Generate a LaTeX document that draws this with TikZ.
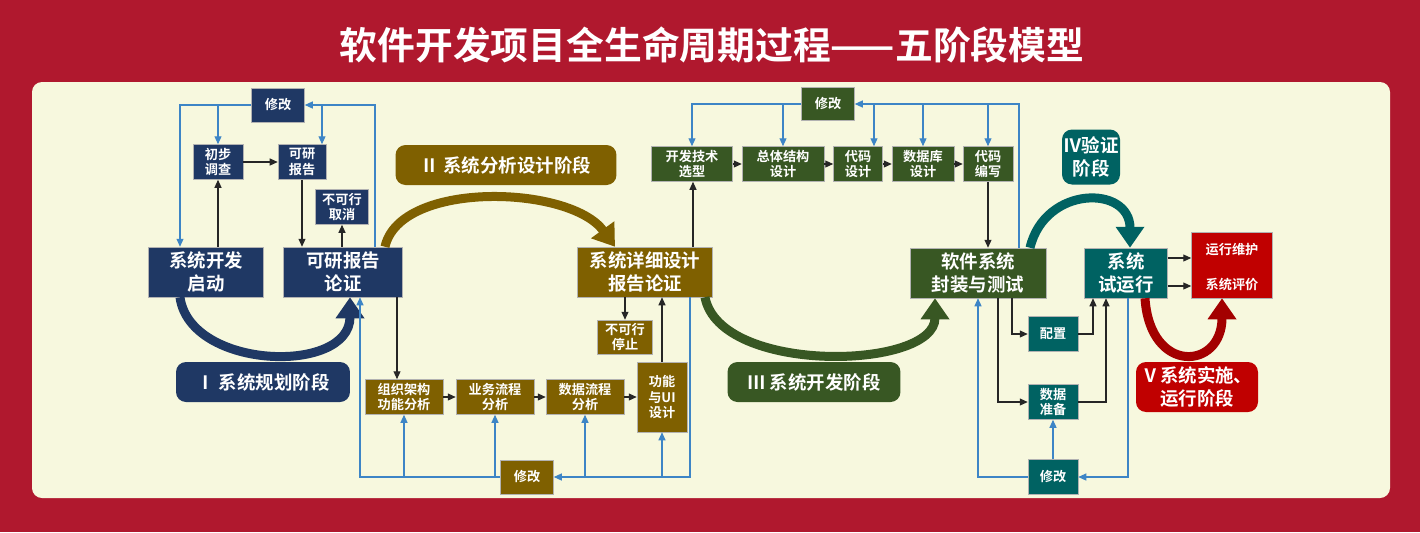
\documentclass[tikz,border=0pt]{standalone}
\usepackage{fontspec}
\setmainfont{Noto Sans CJK SC}[BoldFont={Noto Sans CJK SC Bold}]
\usetikzlibrary{arrows.meta, positioning}
\definecolor{bgred}{HTML}{B0182E}
\definecolor{panel}{HTML}{F7F8DE}
\definecolor{navy}{HTML}{1F3864}
\definecolor{brown}{HTML}{7F6000}
\definecolor{dgreen}{HTML}{385723}
\definecolor{teal}{HTML}{006262}
\definecolor{dred}{HTML}{C00000}
\definecolor{lblue}{HTML}{3D85C6}
\tikzset{ % global config
    box/.style={text=white, font=\bfseries\fontsize{7.5}{9}\selectfont, align=center, inner sep=0pt, draw=white!70!black, line width=0.3pt},
    bigbox/.style={box, font=\bfseries\fontsize{10.5}{13}\selectfont},
    stage/.style={text=white, font=\bfseries\fontsize{10.5}{13}\selectfont, align=center, rounded corners=0.2cm, inner sep=0pt},
    fa/.style={-{Triangle[length=0.16cm,width=0.14cm]}, line width=0.6pt, black!85},
    fb/.style={-{Triangle[length=0.16cm,width=0.14cm]}, line width=0.6pt, lblue},
    big/.style={line width=0.18cm, -{Triangle[length=0.42cm,width=0.55cm]}},
}
\begin{document}
\begin{tikzpicture}[x=0.02cm, y=-0.02cm]
\useasboundingbox[fill=bgred] (0,0) rectangle (1420,532);
\fill[panel, rounded corners=0.2cm] (32,82) rectangle (1390,498);
\node[text=white, font=\bfseries\fontsize{21.5}{24}\selectfont] (title) at (712,45) {软件开发项目全生命周期过程——五阶段模型};

% columns
\foreach \c in {180,322,350,360,375,385,397,615,690,693,705,874,935,978,998,1012,1019,1030,1093,1106,1128,1130,1145,1222}
  \coordinate (c\c) at (\c,0);
\coordinate (r258) at (0,258);
\coordinate (r286) at (0,286);

% stage I
\node[box, fill=navy, minimum width=1.06cm, minimum height=0.68cm] (m1) at (278,105) {修改};
\node[box, fill=navy, minimum width=1.0cm, minimum height=0.7cm] (cb) at (218,162) {初步\\调查};
\node[box, fill=navy, minimum width=0.96cm, minimum height=0.7cm] (kb) at (302,162) {可研\\报告};
\node[box, fill=navy, minimum width=1.06cm, minimum height=0.7cm] (qx) at (342,207) {不可行\\取消};
\node[bigbox, fill=navy, minimum width=2.3cm, minimum height=1.0cm] (qd) at (206,272) {系统开发\\启动};
\node[bigbox, fill=navy, minimum width=2.38cm, minimum height=1.0cm] (lz) at (343,272) {可研报告\\论证};
\node[stage, fill=navy, minimum width=3.48cm, minimum height=0.8cm] (s1) at (263,382) {Ⅰ 系统规划阶段};

% stage II
\node[stage, fill=brown, minimum width=4.42cm, minimum height=0.8cm] (s2) at (506,165) {Ⅱ 系统分析设计阶段};
\node[bigbox, fill=brown, minimum width=2.7cm, minimum height=1.0cm] (xs) at (645,272) {系统详细设计\\报告论证};
\node[box, fill=brown, minimum width=1.1cm, minimum height=0.68cm] (tz) at (625,337) {不可行\\停止};
\node[box, fill=brown, minimum width=1.56cm, minimum height=0.7cm] (a1) at (404,397) {组织架构\\功能分析};
\node[box, fill=brown, minimum width=1.56cm, minimum height=0.7cm] (a2) at (495,397) {业务流程\\分析};
\node[box, fill=brown, minimum width=1.56cm, minimum height=0.7cm] (a3) at (585,397) {数据流程\\分析};
\node[box, fill=brown, minimum width=1.0cm, minimum height=1.4cm] (a4) at (662,397) {功能\\与UI\\设计};
\node[box, fill=brown, minimum width=1.06cm, minimum height=0.68cm] (m2) at (527,477) {修改};

% stage III
\node[box, fill=dgreen, minimum width=1.06cm, minimum height=0.66cm] (m3) at (828,104) {修改};
\node[box, fill=dgreen, minimum width=1.62cm, minimum height=0.7cm] (g1) at (692,164) {开发技术\\选型};
\node[box, fill=dgreen, minimum width=1.64cm, minimum height=0.7cm] (g2) at (783,164) {总体结构\\设计};
\node[box, fill=dgreen, minimum width=0.98cm, minimum height=0.7cm] (g3) at (858,164) {代码\\设计};
\node[box, fill=dgreen, minimum width=1.24cm, minimum height=0.7cm] (g4) at (923,164) {数据库\\设计};
\node[box, fill=dgreen, minimum width=1.0cm, minimum height=0.7cm] (g5) at (988,164) {代码\\编写};
\node[bigbox, fill=dgreen, minimum width=2.72cm, minimum height=1.0cm] (fz) at (978,273) {软件系统\\封装与测试};
\node[stage, fill=dgreen, minimum width=3.46cm, minimum height=0.8cm] (s3) at (814,382) {Ⅲ 系统开发阶段};

% stage IV and V
\node[stage, fill=teal, minimum width=1.16cm, minimum height=1.1cm] (s4) at (1091,157) {Ⅳ验证\\阶段};
\node[bigbox, fill=teal, minimum width=1.66cm, minimum height=1.0cm] (sy) at (1126,273) {系统\\试运行};
\node[box, fill=dred, minimum width=1.62cm, minimum height=1.32cm] (yw) at (1232,265) {};
\node[text=white, font=\bfseries\fontsize{7.5}{9}\selectfont] (yw1) at (1232,250) {运行维护};
\node[text=white, font=\bfseries\fontsize{7.5}{9}\selectfont] (yw2) at (1232,284) {系统评价};
\node[box, fill=teal, minimum width=1.0cm, minimum height=0.7cm] (pz) at (1053,334) {配置};
\node[box, fill=teal, minimum width=1.0cm, minimum height=0.7cm] (sj) at (1053,402) {数据\\准备};
\node[box, fill=teal, minimum width=1.0cm, minimum height=0.7cm] (m4) at (1053,477) {修改};
\node[stage, fill=dred, minimum width=2.44cm, minimum height=1.0cm] (s5) at (1197,387) {Ⅴ系统实施、\\运行阶段};

% big stage arrows
\draw[big, navy] (qd.south -| c180) .. controls (190,370) and (350,375) .. (lz.south -| c350);
\draw[big, brown] (lz.north -| c385) .. controls (400,180) and (570,185) .. (xs.north -| c615);
\draw[big, dgreen] (xs.south -| c705) .. controls (720,375) and (935,370) .. (fz.south -| c935);
\draw[big, teal] (fz.north -| c1030) .. controls (1045,185) and (1130,185) .. (sy.north -| c1130);
\draw[big, dred!85!black] (sy.south -| c1145) .. controls (1150,375) and (1222,370) .. (yw.south -| c1222);

% stage I links
\draw[fa] (qd.north -| cb.south) -- (cb.south);
\draw[fa] (cb) -- (kb);
\draw[fa] (kb.south) -- (kb.south |- lz.north);
\draw[fa] (lz.north -| qx.south) -- (qx.south);
\draw[fb] (lz.north -| c375) |- (m1.east);
\draw[fb] (m1.west) -| (qd.north -| c180);
\draw[fb] (m1.west -| cb.north) -- (cb.north);
\draw[fb] (m1.east -| c322) -- (kb.north -| c322);

% stage II links
\draw[fa] (lz.south -| c397) -- (a1.north -| c397);
\draw[fa] (a1) -- (a2);
\draw[fa] (a2) -- (a3);
\draw[fa] (a3) -- (a4);
\draw[fa] (a4.north) -- (a4.north |- xs.south);
\draw[fa] (xs.south -| tz.north) -- (tz.north);
\draw[fb] (m2.west) -| (lz.south -| c360);
\draw[fb] (m2.west -| a1.south) -- (a1.south);
\draw[fb] (m2.west -| a2.south) -- (a2.south);
\draw[fb] (xs.south -| c690) |- (m2.east);
\draw[fb] (m2.east -| a3.south) -- (a3.south);
\draw[fb] (m2.east -| a4.south) -- (a4.south);

% stage III links
\draw[fa] (xs.north -| c693) -- (g1.south -| c693);
\draw[fa] (g1) -- (g2);
\draw[fa] (g2) -- (g3);
\draw[fa] (g3) -- (g4);
\draw[fa] (g4) -- (g5);
\draw[fa] (g5.south) -- (g5.south |- fz.north);
\draw[fb] (fz.north -| c1019) |- (m3.east);
\draw[fb] (m3.east -| c874) -- (g3.north -| c874);
\draw[fb] (m3.east -| g4.north) -- (g4.north);
\draw[fb] (m3.east -| g5.north) -- (g5.north);
\draw[fb] (m3.west) -| (g1.north);
\draw[fb] (m3.west -| g2.north) -- (g2.north);

% stage IV/V links
\draw[fa] (fz.south -| c1012) |- (pz.west);
\draw[fa] (fz.south -| c998) |- (sj.west);
\draw[fa] (pz.east) -| (sy.south -| c1093);
\draw[fa] (sj.east) -| (sy.south -| c1106);
\draw[fb] (sy.south -| c1128) |- (m4.east);
\draw[fb] (m4.west) -| (fz.south -| c978);
\draw[fb] (m4.north) -- (sj.south);
\draw[fa] (sy.east |- r258) -- (yw.west |- r258);
\draw[fa] (sy.east |- r286) -- (yw.west |- r286);
\end{tikzpicture}
\end{document}
